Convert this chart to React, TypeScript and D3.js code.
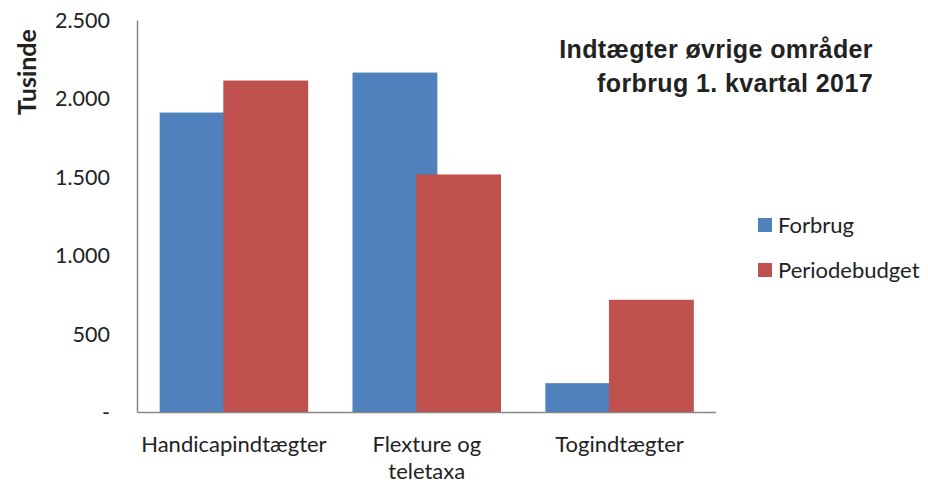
import React from "react";
import * as d3 from "d3";

const categories = ["Handicapindtægter", "Flexture og teletaxa", "Togindtægter"];
const categoryLines = [["Handicapindtægter"], ["Flexture og", "teletaxa"], ["Togindtægter"]];
const seriesNames = ["Forbrug", "Periodebudget"];
const forbrug = [1913, 2168, 187];
const periodebudget = [2117, 1518, 719];
const yTicks = [0, 500, 1000, 1500, 2000, 2500];
const yTickLabels = ["-", "500", "1.000", "1.500", "2.000", "2.500"];
const colors = ["#4F81BD", "#C0504D"];
const titleLines = ["Indtægter øvrige områder", "forbrug 1. kvartal 2017"];
const yTitle = "Tusinde";

const W = 928, H = 484;
const plot = { left: 137.5, right: 716, top: 20.5, bottom: 412.5 };
const labelFont = "Lato, 'Open Sans', sans-serif";

export default function App() {
  const x = d3.scaleBand<string>().domain(categories).range([plot.left, plot.right]).paddingInner(0).paddingOuter(0);
  const y = d3.scaleLinear().domain([0, 2500]).range([plot.bottom, plot.top]);
  const bw = x.bandwidth();
  const barW = bw * 0.44;
  const overlap = bw * 0.11;
  const groupW = barW * 2 - overlap;
  const series = [forbrug, periodebudget];

  return (
    <svg width={W} height={H} style={{ position: "absolute", left: 0, top: 0 }}>
      <rect width={W} height={H} fill="#fff" />
      {series.map((vals, si) =>
        categories.map((c, i) => {
          const x0 = (x(c) as number) + (bw - groupW) / 2 + si * (barW - overlap);
          return (
            <rect key={`${si}-${i}`} x={x0} y={y(vals[i])} width={barW} height={y(0) - y(vals[i])} fill={colors[si]} />
          );
        })
      )}
      <line x1={plot.left} x2={plot.left} y1={plot.top} y2={plot.bottom} stroke="#868686" strokeWidth={1.5} />
      <line x1={plot.left} x2={plot.right} y1={plot.bottom} y2={plot.bottom} stroke="#868686" strokeWidth={1.5} />
      {yTicks.map((t, i) => (
        <text key={t} x={110} y={y(t)} dy="0.35em" textAnchor="end" fontFamily={labelFont} fontSize={21.5} fill="#222">
          {yTickLabels[i]}
        </text>
      ))}
      {categoryLines.map((lines, i) => (
        <text key={i} x={(x(categories[i]) as number) + bw / 2} textAnchor="middle" fontFamily={labelFont} fontSize={22} fill="#222">
          {lines.map((l, j) => (
            <tspan key={j} x={(x(categories[i]) as number) + bw / 2} y={452 + j * 27}>{l}</tspan>
          ))}
        </text>
      ))}
      <text transform="translate(36,72) rotate(-90)" textAnchor="middle" fontFamily={labelFont} fontWeight="bold" fontSize={25} fill="#222">
        {yTitle}
      </text>
      {titleLines.map((t, i) => (
        <text key={i} x={873} y={58 + i * 34} textAnchor="end" fontFamily="'Liberation Sans', Arial, sans-serif" fontWeight="bold" fontSize={25} letterSpacing={0.4} fill="#222">
          {t}
        </text>
      ))}
      {seriesNames.map((s, i) => (
        <g key={s} transform={`translate(758,${218 + i * 45})`}>
          <rect width={14} height={14} fill={colors[i]} />
          <text x={20} y={7} dy="0.35em" fontFamily={labelFont} fontSize={22} fill="#222">{s}</text>
        </g>
      ))}
    </svg>
  );
}
